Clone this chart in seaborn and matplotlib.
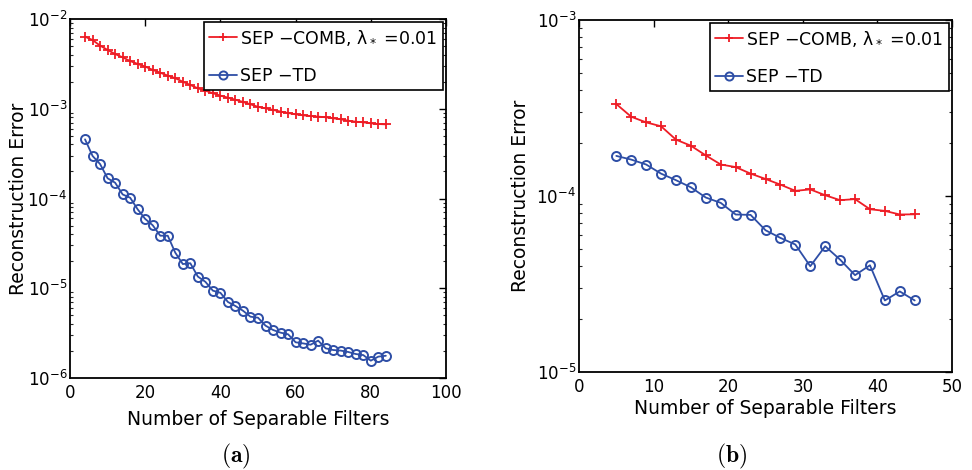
import numpy as np
import pandas as pd
import matplotlib
matplotlib.use("Agg")
import matplotlib.pyplot as plt
import seaborn as sns
from matplotlib.ticker import LogLocator, FixedLocator, NullFormatter

sns.set_theme(style="white")
plt.rcParams['font.family'] = ['DejaVu Sans']
plt.rcParams['mathtext.fontset'] = 'dejavusans'
plt.rcParams['text.color'] = 'black'

# ---- data (a) ----
x_a = list(range(4, 85, 2))
comb_a = [6.35e-3, 5.83e-3, 5.05e-3, 4.52e-3, 4.07e-3, 3.74e-3, 3.40e-3, 3.16e-3,
          2.95e-3, 2.71e-3, 2.52e-3, 2.34e-3, 2.19e-3, 2.00e-3, 1.84e-3, 1.69e-3,
          1.59e-3, 1.49e-3, 1.40e-3, 1.33e-3, 1.26e-3, 1.19e-3, 1.12e-3, 1.05e-3,
          1.01e-3, 9.7e-4, 9.3e-4, 8.97e-4, 8.67e-4, 8.45e-4, 8.3e-4, 8.17e-4,
          8.04e-4, 7.83e-4, 7.63e-4, 7.36e-4, 7.17e-4, 7.06e-4, 6.88e-4, 6.76e-4,
          6.70e-4]
td_a = [4.56e-4, 2.98e-4, 2.42e-4, 1.68e-4, 1.50e-4, 1.11e-4, 1.02e-4, 7.57e-5,
        5.92e-5, 5.03e-5, 3.85e-5, 3.85e-5, 2.49e-5, 1.86e-5, 1.90e-5, 1.35e-5,
        1.18e-5, 9.4e-6, 8.9e-6, 7.03e-6, 6.34e-6, 5.62e-6, 4.82e-6, 4.70e-6,
        3.83e-6, 3.43e-6, 3.20e-6, 3.07e-6, 2.50e-6, 2.43e-6, 2.35e-6, 2.61e-6,
        2.14e-6, 2.05e-6, 2.02e-6, 1.95e-6, 1.85e-6, 1.80e-6, 1.56e-6, 1.73e-6,
        1.77e-6]

# ---- data (b) ----
x_b = list(range(5, 46, 2))
comb_b = [3.33e-4, 2.82e-4, 2.62e-4, 2.49e-4, 2.09e-4, 1.93e-4, 1.70e-4, 1.51e-4,
          1.46e-4, 1.34e-4, 1.25e-4, 1.16e-4, 1.07e-4, 1.09e-4, 1.01e-4, 9.47e-5,
          9.6e-5, 8.41e-5, 8.23e-5, 7.85e-5, 7.87e-5]
td_b = [1.69e-4, 1.61e-4, 1.51e-4, 1.34e-4, 1.23e-4, 1.12e-4, 9.8e-5, 9.14e-5,
        7.85e-5, 7.81e-5, 6.39e-5, 5.78e-5, 5.30e-5, 3.99e-5, 5.18e-5, 4.35e-5,
        3.55e-5, 4.04e-5, 2.55e-5, 2.87e-5, 2.55e-5]

label_comb = "SEP \u2212COMB, \u03bb$_*$ =0.01"
label_td = "SEP \u2212TD"
xlabel = "Number of Separable Filters"
ylabel = "Reconstruction Error"
red = "#ee1c25"
blue = "#2e4ea6"

fig = plt.figure(figsize=(9.72, 4.70), dpi=100)
ax1 = fig.add_axes([70/972, 92/470, 376/972, 359/470])
ax2 = fig.add_axes([579/972, 98/470, 373/972, 352/470])


def draw(ax, x, comb, td, xlim, ylim, xticks, xlab_y, ylab_x):
    df = pd.DataFrame({"x": x, "comb": comb, "td": td})
    sns.lineplot(data=df, x="x", y="comb", ax=ax, color=red, marker="+",
                 markersize=6.5, markeredgewidth=1.3, markeredgecolor=red,
                 linewidth=1.3, label=label_comb)
    sns.lineplot(data=df, x="x", y="td", ax=ax, color=blue, marker="o",
                 markersize=6.5, markerfacecolor="none", markeredgecolor=blue,
                 markeredgewidth=1.4, linewidth=1.3, label=label_td)
    ax.set_yscale("log")
    ax.set_xlim(*xlim)
    ax.set_ylim(*ylim)
    ax.xaxis.set_major_locator(FixedLocator(xticks))
    ax.yaxis.set_major_locator(LogLocator(base=10, numticks=10))
    ax.yaxis.set_minor_locator(LogLocator(base=10, subs=np.arange(2, 10), numticks=20))
    ax.yaxis.set_minor_formatter(NullFormatter())
    ax.tick_params(axis="both", which="major", direction="in", length=5,
                   width=1.0, labelsize=12, top=True, right=True,
                   colors="black", pad=2)
    ax.tick_params(axis="y", which="minor", direction="in", length=2.5,
                   width=0.8, right=True, left=True)
    ax.tick_params(axis="x", which="major", pad=4)
    for s in ax.spines.values():
        s.set_color("black")
        s.set_linewidth(1.3)
    ax.set_xlabel(xlabel, fontsize=13.5, color="black")
    ax.set_ylabel(ylabel, fontsize=13.5, color="black")
    ax.xaxis.set_label_coords(0.5, xlab_y)
    ax.yaxis.set_label_coords(ylab_x, 0.5)
    leg = ax.legend(loc="upper right", fontsize=12.5, frameon=True, fancybox=False,
                    edgecolor="black", framealpha=1, borderaxespad=0.2,
                    handlelength=1.6, handletextpad=0.2, labelspacing=1.15,
                    borderpad=0.3, markerscale=0.9, labelcolor="black")
    leg.get_frame().set_linewidth(1.2)
    ax.grid(False)
    ax.set_facecolor("white")


draw(ax1, x_a, comb_a, td_a, (0, 100), (1e-6, 1e-2), [0, 20, 40, 60, 80, 100],
     -0.088, -0.112)
draw(ax2, x_b, comb_b, td_b, (0, 50), (1e-5, 1e-3), [0, 10, 20, 30, 40, 50],
     -0.078, -0.132)

fig.text(236/972, 1 - 456/470, r"$\mathbf{(a)}$", ha="center", va="center", fontsize=17,
         math_fontfamily='cm', color="black")
fig.text(732/972, 1 - 456/470, r"$\mathbf{(b)}$", ha="center", va="center", fontsize=17,
         math_fontfamily='cm', color="black")

fig.savefig("out.png", dpi=100, facecolor="white")
